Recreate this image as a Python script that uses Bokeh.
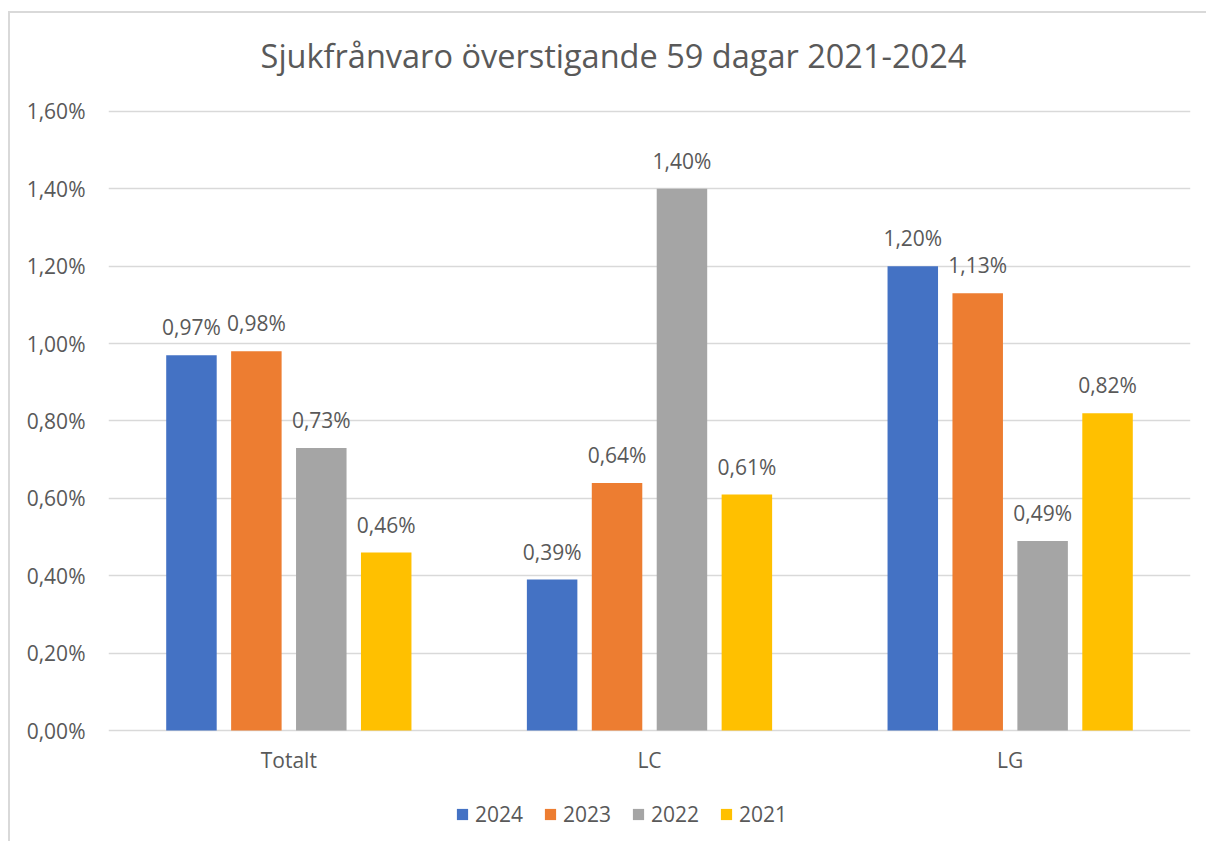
from bokeh.plotting import figure
from bokeh.models import ColumnDataSource, Range1d, FixedTicker, CustomJSTickFormatter, Label, Legend
from bokeh.transform import dodge
from bokeh.core.properties import value
from bokeh.embed import file_html
from bokeh.resources import INLINE

# ---- data ----
categories = ["Totalt", "LC", "LG"]
years = ["2024", "2023", "2022", "2021"]
v2024 = [0.97, 0.39, 1.20]
v2023 = [0.98, 0.64, 1.13]
v2022 = [0.73, 1.40, 0.49]
v2021 = [0.46, 0.61, 0.82]
ytick_values = [0.0, 0.2, 0.4, 0.6, 0.8, 1.0, 1.2, 1.4, 1.6]
title_text = "Sjukfrånvaro överstigande 59 dagar 2021-2024"

colors = ["#4472C4", "#ED7D31", "#A5A5A5", "#FFC000"]
offsets = [-0.27, -0.09, 0.09, 0.27]
series = [v2024, v2023, v2022, v2021]

def fmt(v):
    return f"{v:.2f}".replace(".", ",") + "%"

data = {"cat": categories}
for y, vals in zip(years, series):
    data["v" + y] = vals
    data["l" + y] = [fmt(v) for v in vals]
source = ColumnDataSource(data)

FONT = "Open Sans"
TXT = "#595959"
FS = "21px"

p = figure(x_range=categories, y_range=Range1d(-0.29208, 1.8533),
           width=1198, height=830, output_backend="svg", toolbar_location=None,
           min_border_left=98, min_border_right=18, min_border_top=0, min_border_bottom=0)
p.margin = (11, 0, 0, 8)
p.styles = {"border-left": "2px solid #d9d9d9", "border-top": "2px solid #d9d9d9"}

p.outline_line_color = None
p.xgrid.grid_line_color = None
p.ygrid.grid_line_color = "#d9d9d9"
p.ygrid.grid_line_width = 1.5
p.xaxis.visible = False

p.yaxis.ticker = FixedTicker(ticks=ytick_values)
p.yaxis.formatter = CustomJSTickFormatter(code="return tick.toFixed(2).replace('.', ',') + '%';")
p.yaxis.axis_line_color = None
p.yaxis.major_tick_line_color = None
p.yaxis.minor_tick_line_color = None
p.yaxis.major_label_text_font = FONT
p.yaxis.major_label_text_font_size = FS
p.yaxis.major_label_text_color = TXT
p.yaxis.major_label_standoff = 17

# category labels under the groups
p.text(x="cat", y=-0.0775, text="cat", source=source, text_align="center",
       text_baseline="middle", text_font=value(FONT), text_font_size=FS, text_color=TXT)

items = []
for y, col, off in zip(years, colors, offsets):
    r = p.vbar(x=dodge("cat", off, range=p.x_range), top="v" + y, width=0.14,
               source=source, fill_color=col, line_color=None)
    items.append((y, [r]))
    p.text(x=dodge("cat", off, range=p.x_range), y="v" + y, text="l" + y, source=source,
           text_align="center", text_baseline="bottom", y_offset=-14,
           text_font=value(FONT), text_font_size=FS, text_color=TXT)

legend = Legend(items=items, orientation="horizontal", location=(347, 15),
                glyph_width=14, glyph_height=14, label_standoff=6, spacing=20,
                padding=0, margin=0, border_line_color=None, background_fill_alpha=0,
                label_text_font=FONT, label_text_font_size=FS, label_text_color=TXT)
p.add_layout(legend, "center")

p.add_layout(Label(x=1.40, y=1.74475, text=title_text, text_align="center",
                   text_baseline="middle", text_font=FONT, text_font_size="32.5px",
                   text_color=TXT))

open("out.html", "w").write(file_html(p, INLINE))
